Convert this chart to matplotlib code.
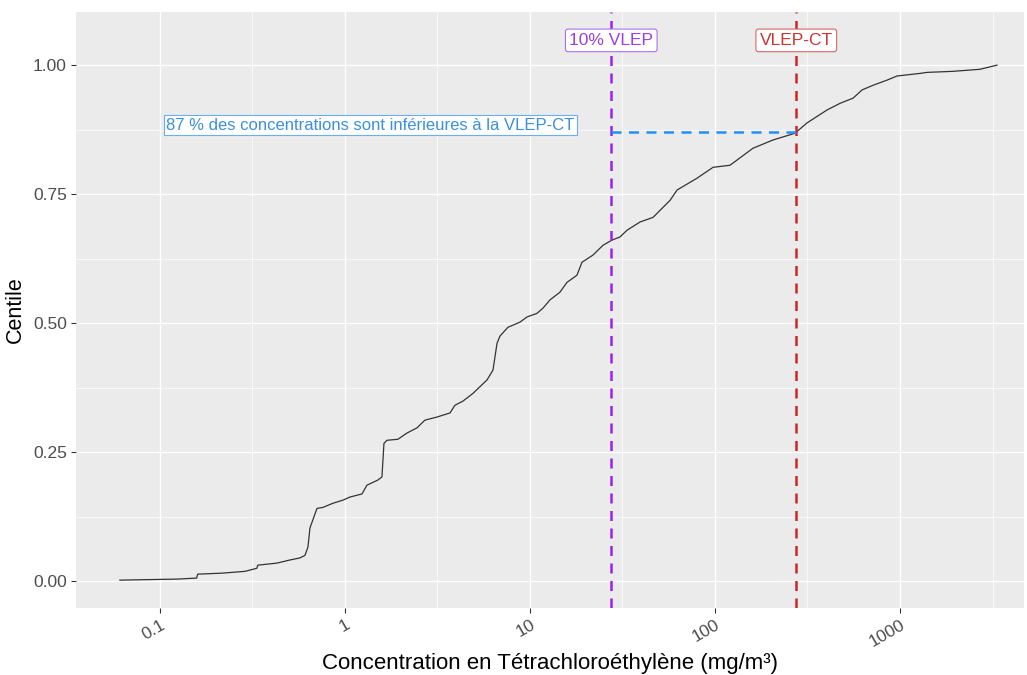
import matplotlib
matplotlib.use("Agg")
import matplotlib.pyplot as plt
from matplotlib.ticker import FixedLocator, NullFormatter

plt.rcParams["font.family"] = ["Liberation Sans", "DejaVu Sans"]

# ---- data ----
concentration = [0.0608, 0.1236, 0.158, 0.160, 0.216, 0.288, 0.334, 0.338, 0.429, 0.504,
                 0.571, 0.608, 0.631, 0.647, 0.706, 0.761, 0.861, 0.975, 1.064, 1.236,
                 1.315, 1.507, 1.585, 1.625, 1.687, 1.933, 2.163, 2.449, 2.704, 3.140,
                 3.696, 3.933, 4.347, 4.922, 5.861, 6.310, 6.637, 6.887, 7.603, 8.831,
                 9.636, 10.91, 11.75, 12.82, 14.52, 15.85, 17.95, 19.10, 21.91, 24.82,
                 27.76, 30.64, 33.43, 39.32, 46.26, 57.15, 62.37, 80.0, 97.6, 120.5,
                 160.4, 205.9, 270.4, 314.1, 402.7, 474.0, 557.2, 623.7, 714.8, 851.1,
                 963.9, 1283, 1400, 1933, 2704, 3343]
centile = [0.002, 0.004, 0.006, 0.0136, 0.0155, 0.019, 0.025, 0.031, 0.035, 0.041,
           0.045, 0.050, 0.066, 0.103, 0.141, 0.143, 0.151, 0.157, 0.163, 0.169,
           0.186, 0.196, 0.202, 0.267, 0.273, 0.275, 0.287, 0.297, 0.312, 0.318,
           0.326, 0.341, 0.349, 0.364, 0.390, 0.409, 0.461, 0.475, 0.492, 0.502,
           0.512, 0.519, 0.529, 0.545, 0.560, 0.579, 0.593, 0.618, 0.632, 0.651,
           0.661, 0.667, 0.680, 0.696, 0.705, 0.738, 0.758, 0.781, 0.802, 0.806,
           0.839, 0.855, 0.868, 0.888, 0.913, 0.926, 0.936, 0.952, 0.961, 0.971,
           0.979, 0.984, 0.986, 0.988, 0.992, 1.0]

vlep_10 = 27.5
vlep_ct = 275.0
share_below = 0.87

x_ticks = [0.1, 1, 10, 100, 1000]
x_tick_labels = ["0.1", "1", "10", "100", "1000"]
x_minor = [0.316, 3.16, 31.6, 316, 3162]
y_ticks = [0.0, 0.25, 0.5, 0.75, 1.0]
y_tick_labels = ["0.00", "0.25", "0.50", "0.75", "1.00"]
y_minor = [0.125, 0.375, 0.625, 0.875]

label_vlep10 = "10% VLEP"
label_vlepct = "VLEP-CT"
label_share = "87 % des concentrations sont inférieures à la VLEP-CT"

# ---- figure ----
fig = plt.figure(figsize=(10.27, 6.75), dpi=100)
ax = fig.add_axes([76/1027, 1-608/675, (1024-76)/1027, (608-12)/675])
ax.set_facecolor("#EBEBEB")
for s in ax.spines.values():
    s.set_visible(False)

ax.set_xscale("log")
ax.set_xlim(0.0352, 4677)
ax.set_ylim(-0.052, 1.103)

ax.xaxis.set_major_locator(FixedLocator(x_ticks))
ax.set_xticklabels(x_tick_labels)
ax.xaxis.set_minor_locator(FixedLocator(x_minor))
ax.xaxis.set_minor_formatter(NullFormatter())
ax.set_yticks(y_ticks)
ax.set_yticklabels(y_tick_labels)
ax.yaxis.set_minor_locator(FixedLocator(y_minor))

ax.grid(which="major", color="white", linewidth=1.0)
ax.grid(which="minor", color="white", linewidth=0.5)
ax.set_axisbelow(True)
ax.tick_params(which="major", length=3.5, color="#333333", width=0.8,
               labelsize=12.5, labelcolor="#4D4D4D", pad=3)
ax.tick_params(which="minor", length=0)
for lab in ax.get_xticklabels():
    lab.set_rotation(30)
    lab.set_ha("right")
    lab.set_rotation_mode("anchor")

ax.plot(concentration, centile, color="#333333", linewidth=0.9, zorder=3)

purple = "#A020F0"
red = "#CD2626"
blue = "#1E90FF"
ax.axvline(vlep_10, color=purple, linestyle=(0, (4, 3)), linewidth=1.8, zorder=4)
ax.axvline(vlep_ct, color=red, linestyle=(0, (4, 3)), linewidth=1.8, zorder=4)
ax.plot([vlep_10, vlep_ct], [share_below, share_below], color=blue,
        linestyle=(0, (4, 3)), linewidth=1.8, zorder=4)

ax.text(vlep_10, 1.048, label_vlep10, color="#9B3FE0", fontsize=12.5,
        ha="center", va="center", zorder=5,
        bbox=dict(boxstyle="round,pad=0.22,rounding_size=0.15", fc="white", ec="#B070E8", lw=0.8))
ax.text(vlep_ct, 1.048, label_vlepct, color="#CC3333", fontsize=12.5,
        ha="center", va="center", zorder=5,
        bbox=dict(boxstyle="round,pad=0.22,rounding_size=0.15", fc="white", ec="#D96666", lw=0.8))
ax.text(1.37, 0.884, label_share, color="#3A8FE0", fontsize=12,
        ha="center", va="center", zorder=5,
        bbox=dict(boxstyle="square,pad=0.15", fc="white", ec="#6AAFF0", lw=0.8))

ax.set_xlabel("Concentration en Tétrachloroéthylène (mg/m³)", fontsize=16, labelpad=3)
ax.set_ylabel("Centile", fontsize=15.5, labelpad=5)

fig.savefig("out.png", dpi=100)
